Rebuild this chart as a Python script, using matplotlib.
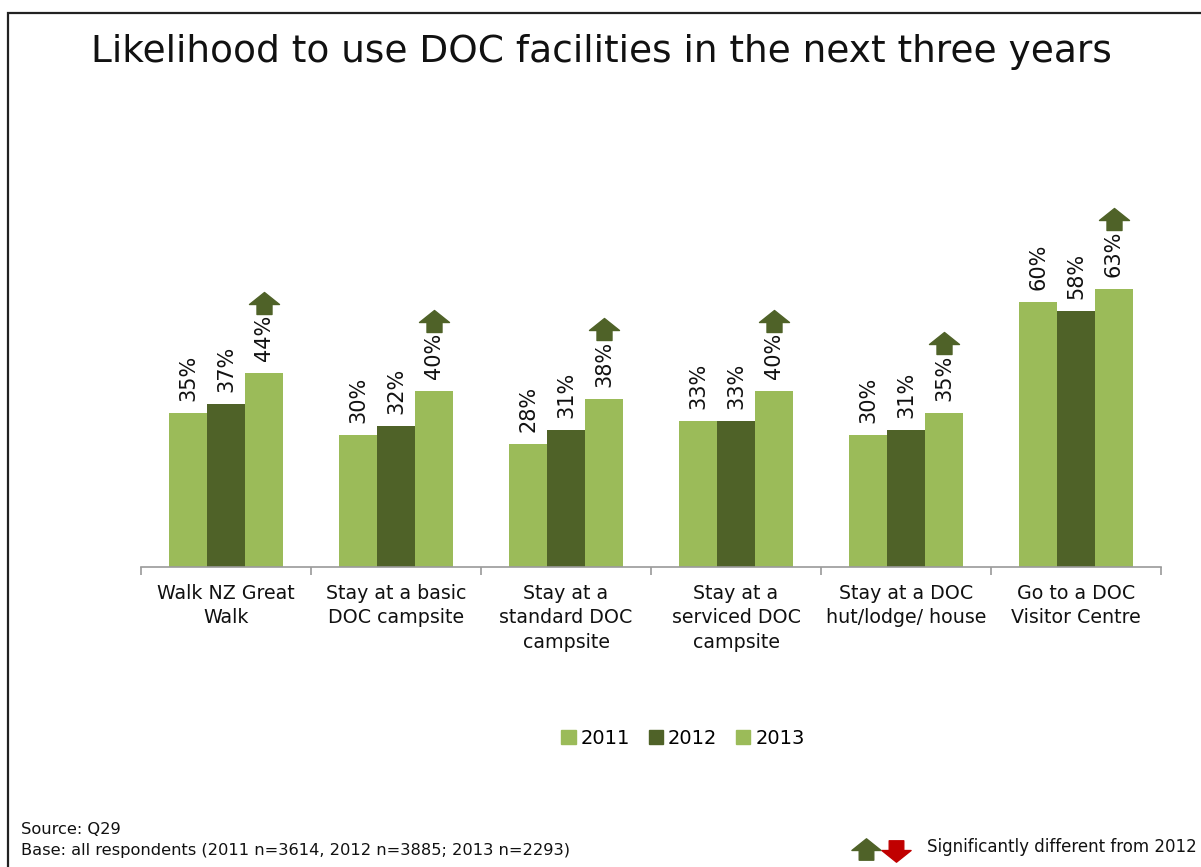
import numpy as np
import matplotlib
matplotlib.use("Agg")
import matplotlib.pyplot as plt
import matplotlib.transforms as mtransforms
from matplotlib.path import Path
from matplotlib.patches import Rectangle, Patch

plt.rcParams['font.family'] = ['DejaVu Sans']

categories = ['Walk NZ Great\nWalk', 'Stay at a basic\nDOC campsite', 'Stay at a\nstandard DOC\ncampsite',
              'Stay at a\nserviced DOC\ncampsite', 'Stay at a DOC\nhut/lodge/ house', 'Go to a DOC\nVisitor Centre']
years = ['2011', '2012', '2013']
v2011 = [35, 30, 28, 33, 30, 60]
v2012 = [37, 32, 31, 33, 31, 58]
v2013 = [44, 40, 38, 40, 35, 63]
# significance vs 2012 for 2013: +1 up, -1 down, 0 none
sig2013 = [1, 1, 1, 1, 1, 1]

light = '#9BBB59'
dark = '#4F6228'
red = '#C00000'
colors = [light, dark, light]

W, H = 1201, 867
fig = plt.figure(figsize=(W / 100, H / 100), dpi=100)

# slide frame
fig.patches.append(Rectangle((8 / W, -0.05), 1.2, 1 - 13 / H + 0.05, transform=fig.transFigure,
                             fill=False, edgecolor='#222222', linewidth=1.6))

fig.text(601 / W, 1 - 52 / H, 'Likelihood to use DOC facilities in the next three years',
         ha='center', va='center', fontsize=27, color='#111111')

ax = fig.add_axes([141 / W, (H - 567) / H, 1020 / W, (567 - 150) / H])
x = np.arange(len(categories))
bw = 0.2235
series = [v2011, v2012, v2013]
for j, vals in enumerate(series):
    xs = x + (j - 1) * bw
    ax.bar(xs, vals, width=bw, color=colors[j], label=years[j])
    for xi, v in zip(xs, vals):
        ax.annotate(f'{v}%', (xi, v), xytext=(0, 12), textcoords='offset pixels',
                    rotation=90, ha='center', va='bottom', fontsize=15, color='#111111')

# significance arrows
up = Path([(-15, -1), (0, 11), (15, -1), (7.5, -1), (7.5, -11), (-7.5, -11), (-7.5, -1), (-15, -1)], closed=True)
down = Path([(-15, 1), (0, -11), (15, 1), (7.5, 1), (7.5, 11), (-7.5, 11), (-7.5, 1), (-15, 1)], closed=True)
arr_trans = mtransforms.offset_copy(ax.transData, fig=fig, y=70, units='dots')
for xi, v, s in zip(x + bw, v2013, sig2013):
    if s:
        ax.plot(xi, v, marker=up if s > 0 else down, markersize=21.6, color=dark if s > 0 else red,
                linestyle='none', transform=arr_trans, clip_on=False)

ax.set_xlim(-0.5, len(categories) - 0.5)
ax.set_ylim(0, (567 - 150) / 4.41)
for s in ['top', 'right', 'left']:
    ax.spines[s].set_visible(False)
ax.spines['bottom'].set_color('#9a9a9a')
ax.spines['bottom'].set_linewidth(1.2)
ax.set_yticks([])
ax.set_xticks(x)
ax.set_xticklabels(categories, fontsize=13.7, color='#111111', linespacing=1.38)
ax.tick_params(axis='x', which='major', length=0, pad=12)
ax.set_xticks(np.arange(-0.5, len(categories)), minor=True)
ax.tick_params(axis='x', which='minor', length=6, color='#9a9a9a', width=1.2)

handles = [Patch(color=c, label=y) for c, y in zip(colors, years)]
fig.legend(handles=handles, loc='center', bbox_to_anchor=(683 / W, (H - 738) / H), ncol=3,
           frameon=False, fontsize=14, handlelength=0.75, handleheight=0.75, handletextpad=0.25,
           columnspacing=0.95)

fig.text(21 / W, (H - 830) / H, 'Source: Q29', fontsize=11.7, va='center', color='#111111')
fig.text(21 / W, (H - 851) / H, 'Base: all respondents (2011 n=3614, 2012 n=3885; 2013 n=2293)',
         fontsize=11.7, va='center', color='#111111')

# significance key
kax = fig.add_axes([0, 0, 1, 1], facecolor='none')
kax.set_xlim(0, W)
kax.set_ylim(H, 0)
kax.axis('off')
kax.plot(866, 849, marker=up, markersize=21, color=dark, linestyle='none')
kax.plot(896, 851, marker=down, markersize=21, color=red, linestyle='none')
kax.text(927, 847, 'Significantly different from 2012', fontsize=12, va='center', color='#111111')

fig.savefig('out.png', dpi=100)
